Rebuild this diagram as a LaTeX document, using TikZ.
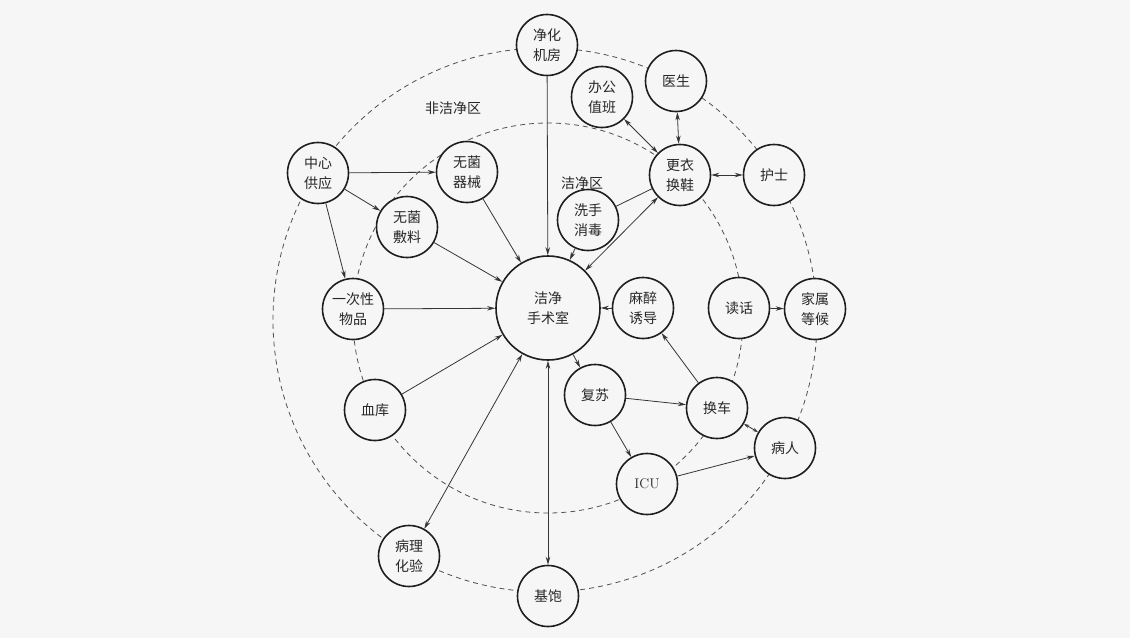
\documentclass[tikz,border=0pt]{standalone}
\usepackage{fontspec}
\newfontfamily\cjk{Noto Sans CJK SC}
\usetikzlibrary{arrows.meta}
\definecolor{bg}{RGB}{246,246,246}
\definecolor{ink}{RGB}{30,30,30}
\definecolor{txt}{RGB}{40,40,40}
\definecolor{dsh}{RGB}{80,80,80}
\tikzset{
  nd/.style={circle, draw=ink, line width=1.6pt, fill=bg, minimum size=61pt, inner sep=0pt,
    align=center, text=txt, font=\cjk\fontsize{14}{20}\selectfont},
  bignd/.style={nd, minimum size=104pt},
  lbl/.style={text=txt, font=\cjk\fontsize{14}{20}\selectfont},
  ring/.style={draw=dsh, line width=0.8pt, dash pattern=on 5pt off 4pt},
  conn/.style={draw=ink!90, line width=0.8pt},
  arr/.style={conn, -{Stealth[length=8pt,width=4.5pt]}},
  darr/.style={conn, {Stealth[length=8pt,width=4.5pt]}-{Stealth[length=8pt,width=4.5pt]}},
  sdarr/.style={conn, {Stealth[length=5.5pt,width=3.5pt]}-{Stealth[length=5.5pt,width=3.5pt]}}
}
\begin{document}
\begin{tikzpicture}[x=1pt,y=-1pt]
\fill[bg] (0,0) rectangle (1130,638);
\useasboundingbox (0,0) rectangle (1130,638);
% zone rings
\draw[ring] (545,320) circle (272);
\draw[ring] (548,318) circle (195);
% nodes
\node[bignd] (or) at (548,308) {洁净\\手术室};
\node[nd] (jh) at (547,45) {净化\\机房};
\node[nd] (zx) at (318,173) {中心\\供应};
\node[nd] (wq) at (467,172) {无菌\\器械};
\node[nd] (wf) at (407,227) {无菌\\敷料};
\node[nd] (yc) at (353,309) {一次性\\物品};
\node[nd] (xk) at (375,410) {血库};
\node[nd] (bl) at (409,556) {病理\\化验};
\node[nd] (jb) at (548,596) {基饱};
\node[nd] (bg) at (602,97) {办公\\值班};
\node[nd] (ys) at (676,81) {医生};
\node[nd] (gy) at (680,175) {更衣\\换鞋};
\node[nd] (hs) at (774,175) {护士};
\node[nd] (xs) at (588,220) {洗手\\消毒};
\node[nd] (mz) at (643,308) {麻醉\\诱导};
\node[nd] (dh) at (739,308) {读话};
\node[nd] (js) at (815,309) {家属\\等候};
\node[nd] (fs) at (595,395) {复苏};
\node[nd] (hc) at (717,408) {换车};
\node[nd] (br) at (785,448) {病人};
\node[nd] (icu) at (647,484) {\normalfont\fontsize{14}{20}\selectfont ICU};
% zone labels
\node[lbl] (l1) at (453,108) {非洁净区};
\node[lbl] (l2) at (582,183) {洁净区};
% connectors
\draw[arr] (zx) -- (wq);
\draw[arr] (zx) -- (wf);
\draw[arr] (zx) -- (yc);
\draw[arr] (wq) -- (or);
\draw[arr] (wf) -- (or);
\draw[arr] (yc) -- (or);
\draw[arr] (xk) -- (or);
\draw[arr] (jh) -- (or);
\draw[arr] (xs) -- (or);
\draw[conn] (xs) -- (gy);
\draw[darr] (or) -- (gy);
\draw[darr] (bg) -- (gy);
\draw[darr] (ys) -- (gy);
\draw[darr] (gy) -- (hs);
\draw[arr] (mz) -- (or);
\draw[arr] (or) -- (fs);
\draw[arr] (fs) -- (hc);
\draw[arr] (hc) -- (mz);
\draw[arr] (fs) -- (icu);
\draw[sdarr] (hc) -- (br);
\draw[arr] (icu) -- (br);
\draw[arr] (dh) -- (js);
\draw[darr] (or) -- (bl);
\draw[darr] (or) -- (jb);
\end{tikzpicture}
\end{document}
